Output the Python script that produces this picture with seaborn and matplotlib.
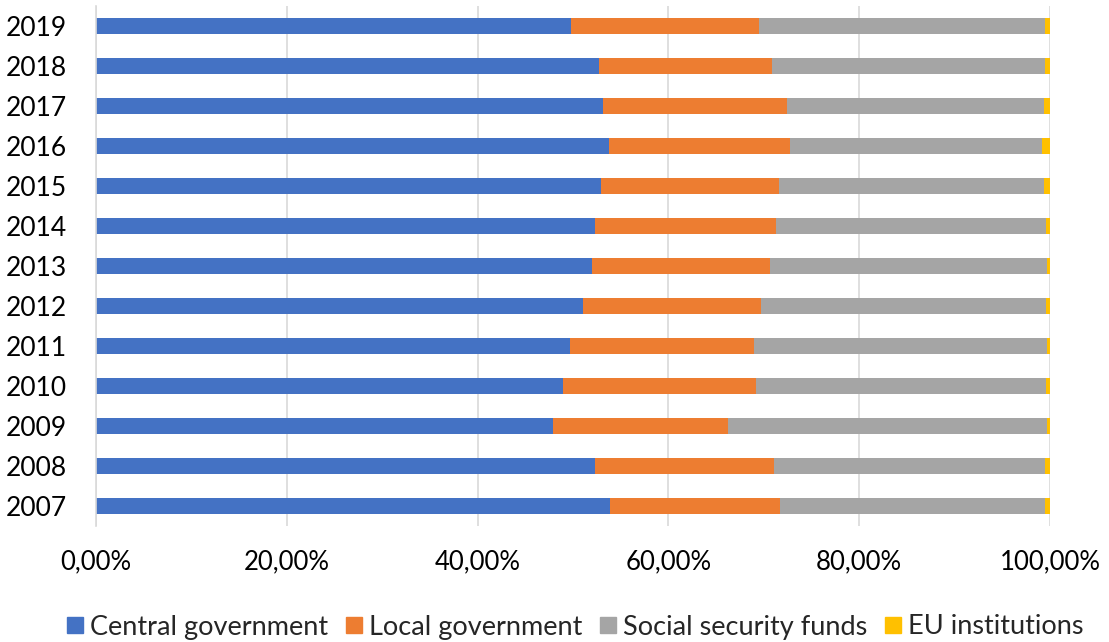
import numpy as np
import pandas as pd
import matplotlib
matplotlib.use("Agg")
import matplotlib.pyplot as plt
from matplotlib.ticker import FuncFormatter
from matplotlib.lines import Line2D
import seaborn as sns

years = ["2007", "2008", "2009", "2010", "2011", "2012", "2013",
         "2014", "2015", "2016", "2017", "2018", "2019"]
central = [53.9, 52.3, 47.9, 49.0, 49.7, 51.0, 52.0, 52.3, 52.9, 53.8, 53.1, 52.7, 49.8]
local = [17.8, 18.8, 18.3, 20.2, 19.3, 18.7, 18.7, 19.0, 18.7, 18.9, 19.3, 18.2, 19.7]
social = [27.8, 28.4, 33.5, 30.4, 30.7, 29.9, 29.0, 28.3, 27.8, 26.5, 27.0, 28.6, 30.0]
eu = [0.5, 0.5, 0.3, 0.4, 0.3, 0.4, 0.3, 0.4, 0.6, 0.8, 0.6, 0.5, 0.5]

series_names = ["Central government", "Local government",
                "Social security funds", "EU institutions"]
colors = ["#4472C4", "#ED7D31", "#A5A5A5", "#FFC000"]

sns.set_theme(style="white")
plt.rcParams["font.family"] = ["Lato", "DejaVu Sans"]

df = pd.DataFrame({"year": years, "c": central, "l": local, "s": social, "e": eu})
vals = df[["c", "l", "s", "e"]].to_numpy(dtype=float)
shares = vals / vals.sum(axis=1, keepdims=True)
cum = np.cumsum(shares, axis=1)

fig = plt.figure(figsize=(11.09, 6.42), dpi=100)
ax = fig.add_axes([96 / 1109, 1 - 526 / 642, (1050 - 96) / 1109, 520 / 642])

order = years[::-1]
# stacked bars: draw cumulative totals from the outermost segment inwards
for k in range(3, -1, -1):
    sub = pd.DataFrame({"year": years, "value": cum[:, k]})
    sns.barplot(data=sub, x="value", y="year", order=order, orient="h",
                color=colors[k], saturation=1, width=0.4, linewidth=0, ax=ax)

ax.set_xlim(0, 1)
ax.set_ylim(len(years) - 0.5, -0.5)
ax.set_xticks(np.linspace(0, 1, 6))
ax.xaxis.set_major_formatter(FuncFormatter(lambda v, p: f"{v * 100:.2f}%".replace(".", ",")))
ax.grid(axis="x", color="#D9D9D9", linewidth=1.2)
ax.set_axisbelow(True)
for side in ["top", "right", "bottom"]:
    ax.spines[side].set_visible(False)
ax.spines["left"].set_color("#D9D9D9")
ax.spines["left"].set_linewidth(1.2)
ax.tick_params(axis="x", length=0, pad=17, labelsize=18.5, colors="#000000")
ax.tick_params(axis="y", length=0, pad=21, labelsize=19, colors="#000000")
ax.set_xlabel("")
ax.set_ylabel("")

handles = [Line2D([0], [0], marker="s", linestyle="", markersize=11.5,
                  markerfacecolor=c, markeredgecolor=c) for c in colors]
fig.legend(handles, series_names, loc="center", bbox_to_anchor=(574 / 1109, 1 - 627 / 642),
           ncol=4, frameon=False, fontsize=19.5, handletextpad=0.15,
           columnspacing=0.55, handlelength=0.8)

fig.savefig("out.png", dpi=100)
